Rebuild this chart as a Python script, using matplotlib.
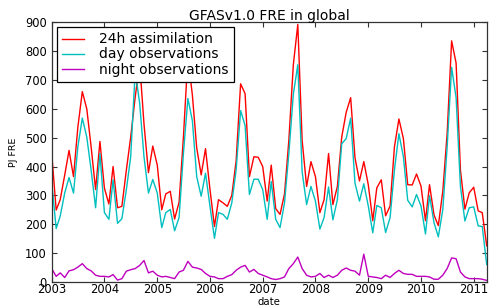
import matplotlib
matplotlib.use("Agg")
import matplotlib.pyplot as plt
import matplotlib.dates as mdates
import pandas as pd

dates = pd.date_range("2003-01-01", periods=100, freq="MS")

assim_24h = [447, 249, 285, 370, 456, 365, 536, 660, 600, 468, 320, 487,
             325, 270, 400, 257, 262, 388, 502, 640, 760, 548, 379, 471,
             405, 250, 305, 314, 218, 276, 502, 780, 648, 465, 371, 462,
             320, 192, 285, 274, 262, 300, 420, 687, 653, 365, 434, 432,
             400, 280, 405, 254, 234, 305, 491, 753, 893, 491, 331, 417,
             365, 240, 285, 445, 268, 331, 502, 588, 639, 430, 350, 417,
             337, 212, 326, 354, 229, 263, 468, 565, 497, 337, 336, 374,
             332, 212, 337, 232, 195, 315, 515, 836, 759, 388, 252, 309,
             328, 246, 240, 125]

day_obs = [345, 185, 228, 308, 362, 308, 468, 568, 502, 388, 257, 445,
           240, 217, 354, 203, 219, 320, 434, 730, 620, 434, 308, 355,
           308, 188, 240, 251, 177, 223, 445, 636, 559, 365, 297, 377,
           262, 151, 240, 234, 217, 274, 388, 594, 542, 303, 356, 356,
           320, 217, 348, 217, 188, 274, 445, 651, 753, 382, 268, 331,
           280, 183, 223, 329, 215, 285, 479, 497, 568, 342, 280, 340,
           263, 170, 265, 257, 171, 223, 388, 514, 434, 283, 260, 303,
           263, 166, 299, 205, 156, 251, 468, 744, 639, 331, 211, 257,
           260, 194, 192, 60]

night_obs = [46, 19, 31, 15, 38, 42, 51, 63, 46, 38, 23, 19,
             19, 17, 25, 6, 11, 37, 42, 46, 57, 74, 31, 37,
             23, 17, 19, 15, 11, 34, 40, 71, 51, 48, 43, 29,
             19, 17, 11, 11, 19, 25, 40, 51, 57, 34, 43, 29,
             23, 17, 11, 8, 11, 17, 46, 63, 86, 46, 23, 17,
             19, 29, 15, 23, 15, 23, 40, 48, 40, 37, 23, 96,
             19, 17, 15, 11, 23, 15, 29, 40, 29, 26, 26, 19,
             19, 19, 17, 9, 9, 23, 46, 83, 80, 34, 17, 11,
             11, 11, 9, 5]

labels = ["24h assimilation", "day observations", "night observations"]
colors = ["#ff0000", "#00bfbf", "#bf00bf"]

plt.rcParams["font.family"] = ["DejaVu Sans"]

fig = plt.figure(figsize=(4.9, 3.07), dpi=100, facecolor="white")
ax = fig.add_axes([0.1055, 0.082, 0.8878, 0.845])

for series, lab, col in zip([assim_24h, day_obs, night_obs], labels, colors):
    ax.plot(dates, series, color=col, lw=1.0, label=lab)

ax.set_xlim(dates[0], dates[-1])
ax.set_ylim(0, 900)
ax.set_yticks(range(0, 901, 100))
ax.xaxis.set_major_locator(mdates.YearLocator())
ax.xaxis.set_major_formatter(mdates.DateFormatter("%Y"))

ax.tick_params(direction="in", top=True, right=True, length=3.6, width=0.8,
               labelsize=8.3, pad=3.5, color="#333333")
ax.tick_params(axis="x", pad=1.0)
for s in ax.spines.values():
    s.set_linewidth(0.9)
    s.set_color("#333333")

ax.set_title("GFASv1.0 FRE in global", fontsize=10, pad=2)
fig.text(0.5 * (0.1055 + 0.9933), 0.0, "date", fontsize=7.3,
         ha="center", va="bottom")
ax.set_ylabel("PJ FRE", fontsize=6.8, labelpad=5)

leg = ax.legend(loc="upper left", fontsize=10, frameon=True, fancybox=False,
                framealpha=1, edgecolor="black", handlelength=1.55,
                handletextpad=1.05, labelspacing=0.08, borderpad=0.4,
                borderaxespad=0, bbox_to_anchor=(0.012, 0.983))
leg.get_frame().set_linewidth(0.9)

fig.savefig("out.png", dpi=100, facecolor="white")
